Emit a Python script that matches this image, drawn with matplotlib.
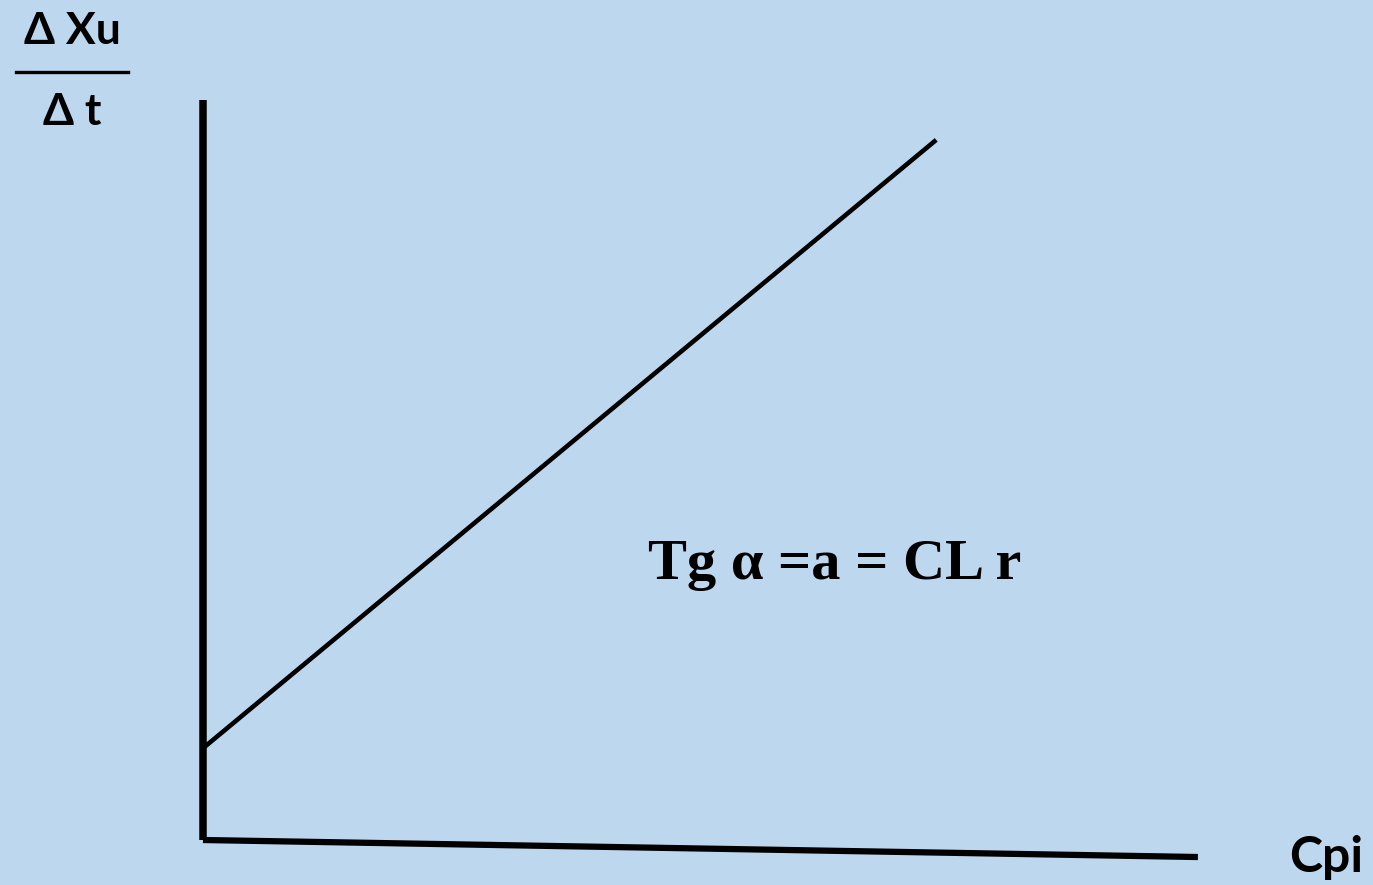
import matplotlib
matplotlib.use("Agg")
import matplotlib.pyplot as plt

# axis frame (drawn by hand, the x axis sags a little toward the right)
y_axis_x = [0, 0]
y_axis_y = [0, 10]
x_axis_x = [0, 10]
x_axis_y = [0, -0.23]

# linear relation: rate vs Cpi
cpi = [0, 7.37]
rate = [1.24, 9.46]

bg = "#BDD7EE"

fig = plt.figure(figsize=(13.73, 8.85), dpi=100, facecolor=bg)
ax = fig.add_axes([0, 0, 1, 1])
ax.set_facecolor(bg)
ax.set_xlim(-2.04, 11.76)
ax.set_ylim(-0.608, 11.35)
ax.axis("off")

ax.plot(y_axis_x, y_axis_y, color="black", lw=5.4, solid_capstyle="butt")
ax.plot(x_axis_x, x_axis_y, color="black", lw=4.5, solid_capstyle="butt")
ax.plot(cpi, rate, color="black", lw=3.3, solid_capstyle="butt")

ax.text(6.35, 3.72, "Tg α =a = CL r", fontsize=42, fontweight="bold",
        family="Liberation Serif", ha="center", va="center")
ax.text(11.66, -0.23, "Cpi", fontsize=36, fontweight="bold",
        family="Lato", ha="right", va="center")

# y-axis label as a fraction
fig.text(72 / 1373, 1 - 31 / 885, "Δ Xu", fontsize=32, fontweight="bold",
         family="Lato", ha="center", va="center")
fig.add_artist(plt.Line2D([16 / 1373, 128 / 1373], [1 - 72 / 885, 1 - 72 / 885],
                          color="black", lw=2.4))
fig.text(72 / 1373, 1 - 112 / 885, "Δ t", fontsize=32, fontweight="bold",
         family="Lato", ha="center", va="center")

fig.savefig("out.png", dpi=100, facecolor=bg)
